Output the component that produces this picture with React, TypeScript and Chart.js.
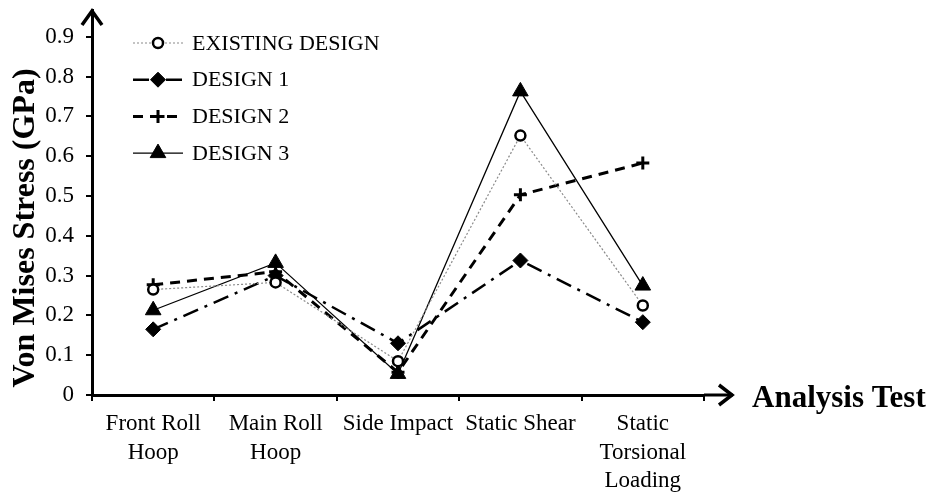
import React, { useEffect, useRef } from "react";
import { Chart, registerables } from "chart.js";
import { drawPoint } from "chart.js/helpers";

Chart.register(...registerables);

// ---------- data ----------
const categories: string[][] = [
  ["Front Roll", "Hoop"],
  ["Main Roll", "Hoop"],
  ["Side Impact"],
  ["Static Shear"],
  ["Static", "Torsional", "Loading"],
];
const seriesNames = ["EXISTING DESIGN", "DESIGN 1", "DESIGN 2", "DESIGN 3"];
const existingDesign = [0.265, 0.283, 0.085, 0.652, 0.225];
const design1 = [0.165, 0.3, 0.13, 0.338, 0.183];
const design2 = [0.277, 0.31, 0.057, 0.503, 0.583];
const design3 = [0.213, 0.332, 0.053, 0.763, 0.275];
const yAxisTitle = "Von Mises Stress (GPa)";
const xAxisTitle = "Analysis Test";
const yMin = 0;
const yMax = 0.9675;
const yStep = 0.1;

const FONT = '"Liberation Serif", "Times New Roman", serif';

const decorPlugin = {
  id: "decor",
  afterDraw(chart: any) {
    const { ctx, chartArea, data } = chart;
    const { left, right, top, bottom } = chartArea;
    ctx.save();
    ctx.strokeStyle = "#000";
    ctx.fillStyle = "#000";
    ctx.lineWidth = 3.5;
    ctx.lineCap = "butt";
    ctx.lineJoin = "miter";
    // y arrow head
    ctx.beginPath();
    ctx.moveTo(left - 10, top + 15);
    ctx.lineTo(left, top + 1);
    ctx.lineTo(left + 10, top + 15);
    ctx.stroke();
    // x axis extension + arrow
    const tipX = right + 29;
    ctx.lineWidth = 3;
    ctx.beginPath();
    ctx.moveTo(right, bottom);
    ctx.lineTo(tipX, bottom);
    ctx.stroke();
    ctx.lineWidth = 3.5;
    ctx.beginPath();
    ctx.moveTo(tipX - 14, bottom - 10);
    ctx.lineTo(tipX - 1, bottom);
    ctx.lineTo(tipX - 14, bottom + 10);
    ctx.stroke();

    // x title
    ctx.font = `bold 31px ${FONT}`;
    ctx.textAlign = "left";
    ctx.textBaseline = "alphabetic";
    ctx.fillText(xAxisTitle, tipX + 19, bottom + 12);

    // y title
    ctx.save();
    ctx.translate(left - 66, bottom - 167);
    ctx.rotate(-Math.PI / 2);
    ctx.font = `bold 32px ${FONT}`;
    ctx.textAlign = "center";
    ctx.textBaseline = "middle";
    ctx.fillText(yAxisTitle, 0, 0);
    ctx.restore();

    // legend
    const lx0 = left + 41;
    const lx1 = left + 91;
    const ly0 = top + 33;
    const rowH = 36.7;
    data.datasets.forEach((ds: any, i: number) => {
      const y = ly0 + i * rowH;
      ctx.save();
      ctx.strokeStyle = ds.borderColor;
      ctx.lineWidth = ds.borderWidth;
      ctx.setLineDash(ds.borderDash || []);
      ctx.beginPath();
      ctx.moveTo(lx0, y);
      ctx.lineTo(lx1, y);
      ctx.stroke();
      ctx.restore();
      ctx.save();
      ctx.strokeStyle = ds.pointBorderColor;
      ctx.fillStyle = ds.pointBackgroundColor;
      ctx.lineWidth = ds.pointBorderWidth;
      drawPoint(ctx, { pointStyle: ds.pointStyle, radius: ds.pointRadius, rotation: 0, borderWidth: ds.pointBorderWidth }, (lx0 + lx1) / 2, y);
      ctx.restore();
      ctx.fillStyle = "#000";
      ctx.font = `22px ${FONT}`;
      ctx.textAlign = "left";
      ctx.textBaseline = "middle";
      ctx.fillText(seriesNames[i], lx1 + 9, y + 1);
    });
    ctx.restore();
  },
};

export default function App() {
  const canvasRef = useRef<HTMLCanvasElement>(null);
  useEffect(() => {
    const tickFont = { family: FONT, size: 23, lineHeight: 1.24 };
    const chart = new Chart(canvasRef.current as HTMLCanvasElement, {
      type: "line",
      data: {
        labels: categories,
        datasets: [
          {
            label: seriesNames[0],
            data: existingDesign,
            borderColor: "#8a8a8a",
            borderWidth: 1.2,
            borderDash: [2, 2],
            pointStyle: "circle",
            pointRadius: 5,
            pointBorderWidth: 2.5,
            pointBorderColor: "#000",
            pointBackgroundColor: "#fff",
            tension: 0,
          },
          {
            label: seriesNames[1],
            data: design1,
            borderColor: "#000",
            borderWidth: 2.5,
            borderDash: [16, 7, 3, 7],
            pointStyle: "rectRot",
            pointRadius: 7.5,
            pointBorderWidth: 1,
            pointBorderColor: "#000",
            pointBackgroundColor: "#000",
            tension: 0,
          },
          {
            label: seriesNames[2],
            data: design2,
            borderColor: "#000",
            borderWidth: 3,
            borderDash: [10, 7],
            pointStyle: "cross",
            pointRadius: 6.5,
            pointBorderWidth: 3,
            pointBorderColor: "#000",
            pointBackgroundColor: "#000",
            tension: 0,
          },
          {
            label: seriesNames[3],
            data: design3,
            borderColor: "#000",
            borderWidth: 1.3,
            borderDash: [],
            pointStyle: "triangle",
            pointRadius: 9,
            pointBorderWidth: 1,
            pointBorderColor: "#000",
            pointBackgroundColor: "#000",
            tension: 0,
          },
        ],
      },
      options: {
        responsive: false,
        animation: false,
        devicePixelRatio: 1,
        layout: { padding: { top: 8, right: 226, bottom: 0, left: 0 } },
        plugins: {
          legend: { display: false },
          tooltip: { enabled: false },
          title: { display: false },
        },
        elements: { line: { fill: false } },
        scales: {
          x: {
            type: "category",
            offset: true,
            grid: {
              display: true,
              offset: true,
              drawOnChartArea: false,
              drawTicks: true,
              tickLength: 6,
              color: "#000",
              lineWidth: 2,
            },
            border: { display: true, color: "#000", width: 3 },
            ticks: {
              color: "#000",
              font: tickFont,
              padding: 9,
              maxRotation: 0,
              autoSkip: false,
            },
            afterFit: (s: any) => {
              s.height = 99;
              s.paddingLeft = 0;
              s.paddingRight = 0;
            },
          },
          y: {
            min: yMin,
            max: yMax,
            ticks: {
              stepSize: yStep,
              includeBounds: false,
              color: "#000",
              font: tickFont,
              padding: 12,
            },
            grid: {
              display: true,
              drawOnChartArea: false,
              drawTicks: true,
              tickLength: 6,
              color: "#000",
              lineWidth: 2,
            },
            border: { display: true, color: "#000", width: 3 },
            afterFit: (s: any) => {
              s.width = 92;
              s.paddingTop = 0;
              s.paddingBottom = 0;
            },
          },
        },
      } as any,
      plugins: [decorPlugin],
    });
    return () => chart.destroy();
  }, []);
  return (
    <canvas
      ref={canvasRef}
      width={930}
      height={494}
      style={{ position: "absolute", left: 0, top: 0, display: "block", background: "#fff" }}
    />
  );
}
